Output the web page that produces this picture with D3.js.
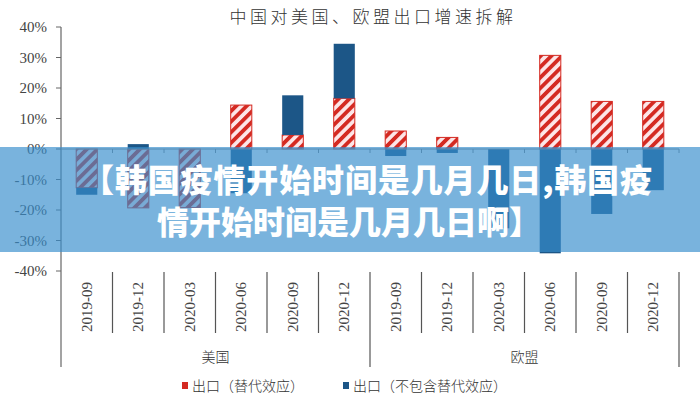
<!DOCTYPE html>
<html><head><meta charset="utf-8">
<script src="https://cdn.jsdelivr.net/npm/d3@7"></script>
<style>body{margin:0;background:#fff}svg{display:block}</style>
</head><body>
<svg id="c" width="700" height="400"></svg>
<script>
const title = "中国对美国、欧盟出口增速拆解";
const groups = ["美国", "欧盟"];
const periods = ["2019-09","2019-12","2020-03","2020-06","2020-09","2020-12"];
const seriesNames = ["出口（替代效应）", "出口（不包含替代效应）"];
// values in %
const substEffect = [-12.7,-19.3,-19.2,14.4,4.6,16.6, 5.9,3.8,0,30.7,15.6,15.6];
const nonSubst    = [-2.3,1.6,0,-14.5,13.0,17.9, -2.3,-1.3,-26,-34.2,-21.3,-13.5];
const yTicks = [-40,-30,-20,-10,0,10,20,30,40];
const bannerLines = ["【韩国疫情开始时间是几月几日,韩国疫", "情开始时间是几月几日啊】"];

const SERIF = "'Liberation Serif', 'Times New Roman', 'DejaVu Serif', serif";
const svg = d3.select("#c");
const rows = [];
groups.forEach((g,gi)=>periods.forEach((p,pi)=>{
  const i = gi*periods.length+pi;
  rows.push({i, group:g, period:p, a:substEffect[i], b:nonSubst[i]});
}));

const x = d3.scaleBand().domain(rows.map(d=>d.i)).range([61,679]).paddingInner(0.59).paddingOuter(0.295);
const step = x.step();
const y = d3.scaleLinear().domain([-40,40]).range([271,27]);

const defs = svg.append("defs");
const pat = defs.append("pattern").attr("id","hatch").attr("patternUnits","userSpaceOnUse")
  .attr("width",7.5).attr("height",7.5).attr("patternTransform","rotate(45)");
pat.append("rect").attr("width",7.5).attr("height",7.5).attr("fill","#fde6e8");
pat.append("rect").attr("width",3.8).attr("height",7.5).attr("fill","#d42a22");

// title
svg.append("text").attr("x",373).attr("y",23).attr("text-anchor","middle")
  .attr("font-family","Noto Sans CJK SC").attr("font-size",17).attr("font-weight",300)
  .attr("letter-spacing",3.5).attr("fill","#333").text(title);

// y axis
const axisColor = "#666";
svg.append("line").attr("x1",61).attr("x2",61).attr("y1",y(40)).attr("y2",367).attr("stroke",axisColor).attr("stroke-width",1.2);
yTicks.forEach(t=>{
  svg.append("line").attr("x1",56).attr("x2",61).attr("y1",y(t)).attr("y2",y(t)).attr("stroke",axisColor);
  svg.append("text").attr("x",47).attr("y",y(t)+5).attr("text-anchor","end")
    .style("font-family",SERIF).attr("font-size",15).attr("fill","#444").text(t+"%");
});

// stacked bars
const stack = d3.stack().keys(["a","b"]).offset(d3.stackOffsetDiverging);
const stacked = stack(rows);
const fills = {a:"url(#hatch)", b:"#1c5687"};
stacked.forEach(s=>{
  svg.append("g").selectAll("rect").data(s).join("rect")
    .attr("x",d=>x(d.data.i)).attr("width",x.bandwidth())
    .attr("y",d=>y(Math.max(d[0],d[1]))).attr("height",d=>Math.abs(y(d[0])-y(d[1])))
    .attr("fill",fills[s.key])
    .attr("stroke",s.key==="a"?"#d42a22":"none").attr("stroke-width",1);
});

// zero line with ticks
svg.append("line").attr("x1",61).attr("x2",679).attr("y1",y(0)).attr("y2",y(0)).attr("stroke","#888").attr("stroke-width",1);
rows.forEach(d=>{
  const bx = x(d.i) - x.paddingInner()*step/2 + step;
  svg.append("line").attr("x1",bx).attr("x2",bx).attr("y1",y(0)).attr("y2",y(0)+4).attr("stroke","#888");
});

// category labels and separators
rows.forEach(d=>{
  const cx = x(d.i)+x.bandwidth()/2;
  svg.append("text").attr("transform",`translate(${cx+5},307) rotate(-90)`).attr("text-anchor","middle")
    .style("font-family",SERIF).attr("font-size",15).attr("fill","#444").text(d.period);
  const bx = cx + step/2;
  const long = (d.i % periods.length) === periods.length-1;
  svg.append("line").attr("x1",bx).attr("x2",bx).attr("y1",272).attr("y2",long?367:333)
    .attr("stroke","#555").attr("stroke-width",1.2);
});
groups.forEach((g,gi)=>{
  const first = x(gi*periods.length) - x.paddingInner()*step/2;
  const cx = first + step*periods.length/2;
  svg.append("text").attr("x",cx).attr("y",362).attr("text-anchor","middle")
    .attr("font-family","Noto Sans CJK SC").attr("font-size",14).attr("font-weight",300).attr("fill","#333").text(g);
});

// legend
const leg = [{x:182, fill:"#d42a22"}, {x:343, fill:"#1c5687"}];
leg.forEach((l,k)=>{
  svg.append("rect").attr("x",l.x).attr("y",382).attr("width",6).attr("height",7).attr("fill",l.fill);
  svg.append("text").attr("x",l.x+10).attr("y",391).attr("font-family","Noto Sans CJK SC").attr("font-size",14)
    .attr("font-weight",300).attr("fill","#333").text(seriesNames[k]);
});

// overlay banner
svg.append("rect").attr("x",0).attr("y",147).attr("width",700).attr("height",105).attr("fill","rgba(55,141,205,0.67)");
svg.append("text").attr("x",82).attr("y",192).attr("textLength",570).attr("lengthAdjust","spacing")
  .attr("font-family","Noto Sans CJK SC").attr("font-size",32).attr("font-weight",900).attr("fill","#fff").text(bannerLines[0]);
svg.append("text").attr("x",157).attr("y",234)
  .attr("font-family","Noto Sans CJK SC").attr("font-size",32).attr("font-weight",900).attr("fill","#fff").text(bannerLines[1]);
</script>
</body></html>
